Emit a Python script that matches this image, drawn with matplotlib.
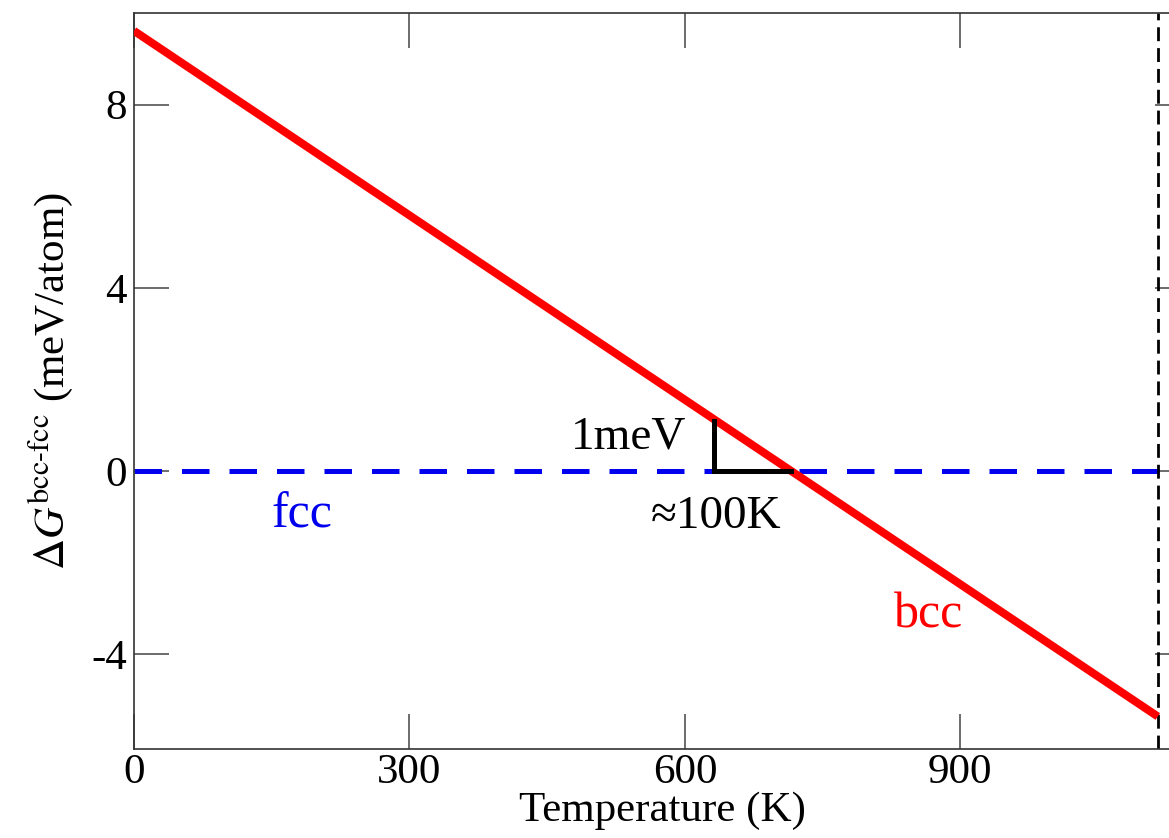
import matplotlib
matplotlib.use("Agg")
import matplotlib.pyplot as plt

# Data
temp_bcc = [0, 1115]
dG_bcc = [9.61, -5.36]
temp_fcc = [0, 1150]
dG_fcc = [0.0, 0.0]
melt_T = 1115
tri_T = [632, 632, 716]
tri_G = [1.1, 0.0, 0.0]
xticks = [0, 300, 600, 900]
yticks = [-4, 0, 4, 8]

plt.rcParams['font.family'] = ['Liberation Serif', 'DejaVu Serif']
plt.rcParams['mathtext.fontset'] = 'stix'

fig = plt.figure(figsize=(11.69, 8.38), dpi=100)
ax = fig.add_axes([0.1146, 0.1062, 0.9033, 0.8783])

ax.plot(temp_fcc, dG_fcc, color='#0000ee', lw=3.6, dashes=(5.5, 4.0), zorder=2)
ax.plot(temp_bcc, dG_bcc, color='#ff0000', lw=5.8, solid_capstyle='butt', zorder=3)
ax.axvline(melt_T, color='black', lw=2.0, dashes=(5, 2.5), zorder=2)
ax.plot(tri_T, tri_G, color='black', lw=3.6, solid_joinstyle='miter', zorder=4)

ax.text(601, 0.74, '1meV', ha='right', va='center', fontsize=34)
ax.text(634, -1.0, '≈100K', ha='center', va='center', fontsize=34)
ax.text(183, -0.96, 'fcc', ha='center', va='center', fontsize=36, color='#0000ee')
ax.text(865, -3.14, 'bcc', ha='center', va='center', fontsize=36, color='#ff0000')

ax.set_xlim(0, 1150)
ax.set_ylim(-6.07, 10.0)
ax.set_xticks(xticks)
ax.set_yticks(yticks)
ax.set_xticklabels([str(v) for v in xticks])
ax.set_yticklabels([str(v) for v in yticks])
ax.tick_params(direction='in', length=25, width=1.1, labelsize=31, top=True, right=True,
               color='#444444')
ax.tick_params(axis='x', pad=3)
ax.tick_params(axis='y', pad=5)
for s in ax.spines.values():
    s.set_linewidth(1.2)
    s.set_color('#333333')

ax.set_xlabel('Temperature (K)', fontsize=31, labelpad=0)
ax.set_ylabel(r'$\Delta G^{\mathrm{bcc\text{-}fcc}}$ (meV/atom)', fontsize=31, labelpad=12)

fig.savefig('out.png', dpi=100)
